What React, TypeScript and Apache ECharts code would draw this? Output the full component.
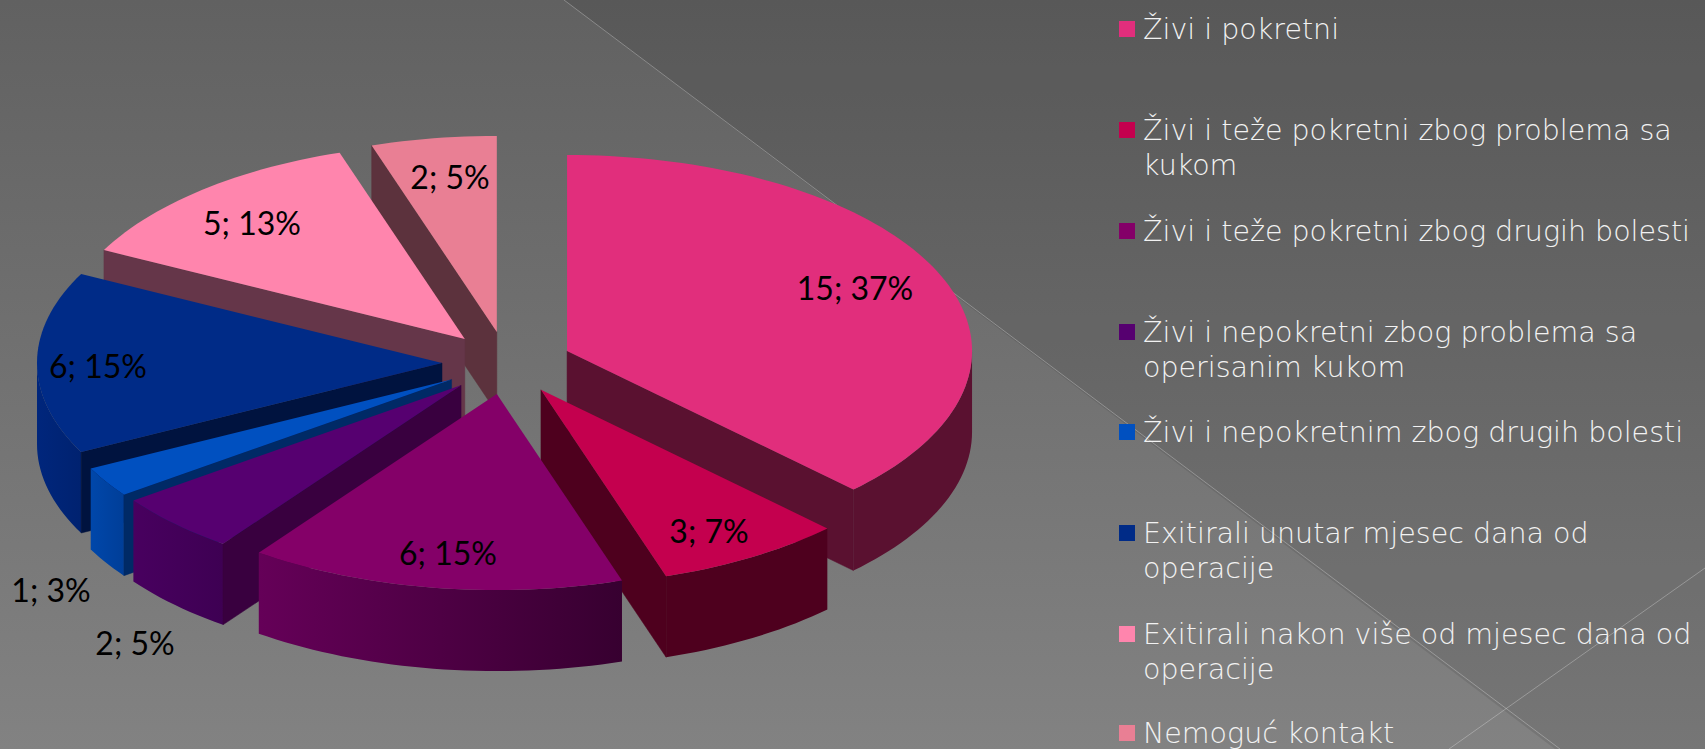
import React, { useEffect, useRef } from "react";
import * as echarts from "echarts";

const categories = [
  "Živi i pokretni",
  "Živi i teže pokretni zbog problema sa\nkukom",
  "Živi i teže pokretni zbog drugih bolesti",
  "Živi i nepokretni zbog problema sa\noperisanim kukom",
  "Živi i nepokretnim zbog drugih bolesti",
  "Exitirali unutar mjesec dana od\noperacije",
  "Exitirali nakon više od mjesec dana od\noperacije",
  "Nemoguć kontakt",
];
const values = [15, 3, 6, 2, 1, 6, 5, 2];
const percents = [37, 7, 15, 5, 3, 15, 13, 5];

const topColors = ["#E12E7C", "#C4004E", "#840068", "#560070", "#0050C0", "#002B87", "#FF85AD", "#E97F94"];
const radialWallColors = ["#5A1130", "#4E001E", "#3A0034", "#39003F", "#002A66", "#00133F", "#653649", "#5C323D"];
const outerWallLeft = ["#5A1130", "#4E001E", "#650058", "#48005F", "#0047AA", "#00267C", "#653649", "#5C323D"];
const outerWallRight = ["#5A1130", "#4E001E", "#370030", "#3E0053", "#003E98", "#002270", "#653649", "#5C323D"];
const labelCenters = [
  [855, 287], [709, 530], [448, 552], [135, 642],
  [51, 589], [98, 365], [252, 222], [450, 176],
];
const legendCenterY = [29, 130, 231, 332, 432, 533, 634, 733];

const CX = 507, CY = 363, RX = 405, RY = 196, DEPTH = 81, EXPLODE = 65;
const rad = (d: number) => (d * Math.PI) / 180;
const total = values.reduce((a, b) => a + b, 0);

const slices = values.map((v, i) => {
  const before = values.slice(0, i).reduce((a, b) => a + b, 0);
  const start = (before / total) * 360;
  const end = ((before + v) / total) * 360;
  const mid = rad((start + end) / 2);
  return {
    i, v, start, end,
    ax: CX + EXPLODE * Math.sin(mid),
    ay: CY - EXPLODE * (RY / RX) * Math.cos(mid),
  };
});
const drawOrder = [...slices].sort((a, b) => a.ay - b.ay);

function rim(s: any, deg: number, dz = 0): number[] {
  return [s.ax + RX * Math.sin(rad(deg)), s.ay - RY * Math.cos(rad(deg)) + dz];
}
function arc(s: any, a: number, b: number, dz = 0) {
  const pts: number[][] = [];
  const n = Math.max(2, Math.ceil((b - a) / 1.5));
  for (let k = 0; k <= n; k++) pts.push(rim(s, a + ((b - a) * k) / n, dz));
  return pts;
}

function sliceRenderer(s: any) {
  return () => {
    const c = s.i;
    const children: any[] = [];
    const a0 = Math.max(s.start, 90);
    const a1 = Math.min(s.end, 270);
    if (a1 > a0) {
      children.push({
        type: "polygon",
        shape: { points: [...arc(s, a0, a1), ...arc(s, a0, a1, DEPTH).reverse()] },
        style: {
          fill: new echarts.graphic.LinearGradient(0, 0, 1, 0, [
            { offset: 0, color: outerWallLeft[c] },
            { offset: 1, color: outerWallRight[c] },
          ]),
        },
      });
    }
    const wall = (deg: number) => ({
      type: "polygon",
      shape: { points: [[s.ax, s.ay], rim(s, deg), rim(s, deg, DEPTH), [s.ax, s.ay + DEPTH]] },
      style: { fill: radialWallColors[c], stroke: radialWallColors[c], lineWidth: 0.5 },
    });
    if (Math.cos(rad(s.start - 90)) < -1e-6) children.push(wall(s.start));
    if (Math.cos(rad(s.end + 90)) < -1e-6) children.push(wall(s.end));
    children.push({
      type: "polygon",
      shape: { points: [[s.ax, s.ay], ...arc(s, s.start, s.end)] },
      style: { fill: topColors[c] },
    });
    children.push({
      type: "text",
      x: labelCenters[c][0],
      y: labelCenters[c][1],
      z2: 100,
      style: {
        text: `${s.v}; ${percents[c]}%`,
        fill: "#000000",
        fontFamily: "Lato",
        fontSize: 32,
        align: "center",
        verticalAlign: "middle",
      },
    });
    return { type: "group", children };
  };
}

export default function App() {
  const ref = useRef<HTMLDivElement>(null);
  useEffect(() => {
    document.body.style.margin = "0";
    const chart = echarts.init(ref.current!, undefined, { renderer: "svg" });
    chart.setOption({
      animation: false,
      tooltip: { show: false },
      graphic: [
        {
          type: "rect", z: -10, silent: true,
          shape: { x: 0, y: 0, width: 1705, height: 749 },
          style: {
            fill: new echarts.graphic.LinearGradient(0, 0, 0, 1, [
              { offset: 0, color: "#616161" },
              { offset: 1, color: "#828282" },
            ]),
          },
        },
        {
          type: "polygon", z: -9, silent: true,
          shape: { points: [[564, 0], [1705, 0], [1705, 749], [1555, 749]] },
          style: { fill: "rgba(0,0,0,0.09)" },
        },
        {
          type: "line", z: -8, silent: true,
          shape: { x1: 564, y1: 0, x2: 1560, y2: 749 },
          style: { stroke: "rgba(255,255,255,0.28)", lineWidth: 1 },
        },
        {
          type: "line", z: -8, silent: true,
          shape: { x1: 1705, y1: 568, x2: 1449, y2: 749 },
          style: { stroke: "rgba(255,255,255,0.28)", lineWidth: 1 },
        },
      ],
      legend: categories.map((name, i) => {
        const lines = name.split("\n").length;
        const lh = 35;
        const blockH = (lines === 2 ? 3 : 1) * lh;
        return {
          data: [name],
          left: 1119,
          top: legendCenterY[i] - blockH / 2,
          padding: 0,
          icon: "rect",
          itemWidth: 16,
          itemHeight: 16,
          selectedMode: false,
          formatter: (n: string) => (lines === 2 ? "\n" + n : n),
          textStyle: {
            color: "#F2F2F2",
            fontFamily: "DejaVu Sans",
            fontWeight: 200,
            fontSize: 28.5,
            lineHeight: lh,
            padding: [0, 0, 0, 3],
          },
        };
      }),
      series: drawOrder.map((s) => ({
        type: "custom",
        name: categories[s.i],
        coordinateSystem: "none",
        data: [s.v],
        itemStyle: { color: topColors[s.i] },
        silent: true,
        clip: false,
        renderItem: sliceRenderer(s),
      })),
    });
    return () => chart.dispose();
  }, []);
  return <div ref={ref} style={{ position: "fixed", left: 0, top: 0, width: 1705, height: 749 }} />;
}
